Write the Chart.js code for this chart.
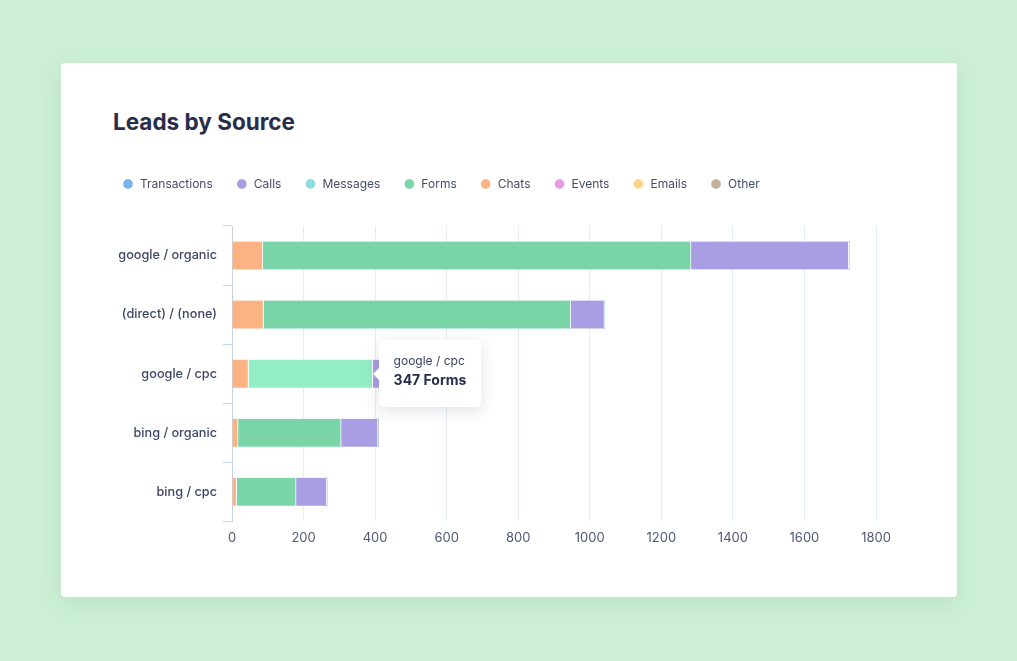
<!DOCTYPE html>
<html>
<head>
<meta charset="utf-8">
<script src="https://cdn.jsdelivr.net/npm/chart.js"></script>
<style>
  body { margin: 0; background: #cdf0d4; font-family: Inter, "Noto Sans", sans-serif; }
  .card {
    position: absolute; left: 61px; top: 63px; width: 896px; height: 534px;
    background: #fff; border-radius: 4px;
    box-shadow: 0 6px 22px rgba(40, 90, 60, 0.10);
  }
  .card h2 {
    position: absolute; left: 52px; top: 46px; margin: 0;
    font-size: 22.5px; line-height: 26px; font-weight: 700; color: #272d4b;
  }
  .wrap { position: absolute; left: 38px; top: 92px; width: 818px; height: 412px; }
  #tip {
    position: absolute; display: none; background: #fff; border-radius: 4px;
    padding: 13px 15px 17px 15px; white-space: nowrap;
    box-shadow: 0 4px 16px rgba(30, 40, 70, 0.13);
  }
  #tip:before {
    content: ""; position: absolute; left: -6px; top: 50%; margin-top: -6px;
    border-top: 6px solid transparent; border-bottom: 6px solid transparent;
    border-right: 6px solid #fff;
  }
  #tip .t1 { font-size: 12px; line-height: 16px; color: #3a4264; }
  #tip .t2 { font-size: 14px; line-height: 20px; margin-top: 1px; font-weight: 700; color: #272d4b; }
</style>
</head>
<body>
<div class="card">
  <h2>Leads by Source</h2>
  <div class="wrap">
    <canvas id="chart"></canvas>
    <div id="tip"><div class="t1"></div><div class="t2"></div></div>
  </div>
</div>
<script>
// Данные графика
var categories = ['google / organic', '(direct) / (none)', 'google / cpc', 'bing / organic', 'bing / cpc'];
var chats = [86, 88, 46, 17, 13];
var forms = [1197, 859, 347, 288, 166];
var calls = [441, 94, 40, 103, 86];
var transactions = [0, 0, 0, 0, 0];
var messages = [0, 0, 0, 0, 0];
var events = [0, 0, 0, 0, 0];
var emails = [0, 0, 0, 0, 0];
var other = [0, 0, 0, 0, 0];
var xTicks = [0, 200, 400, 600, 800, 1000, 1200, 1400, 1600, 1800];
var legendOrder = ['Transactions', 'Calls', 'Messages', 'Forms', 'Chats', 'Events', 'Emails', 'Other'];

var font = 'Inter, "Noto Sans", sans-serif';
var sep = { top: 0, bottom: 0, left: 0, right: 1 };

function ds(label, data, color, hover) {
    return {
        label: label,
        data: data,
        backgroundColor: color,
        hoverBackgroundColor: hover || color,
        borderColor: '#fff',
        hoverBorderColor: '#fff',
        borderWidth: sep,
        hoverBorderWidth: sep,
        borderSkipped: false,
        barThickness: 28
    };
}

// Порядок наборов = порядок сложения в стопке
var datasets = [
    ds('Chats', chats, '#fcb384'),
    ds('Forms', forms, '#79d4a8', '#93edc5'),
    ds('Calls', calls, '#a99ee4'),
    ds('Transactions', transactions, '#79b3ef'),
    ds('Messages', messages, '#8edcdd'),
    ds('Events', events, '#e49ce3'),
    ds('Emails', emails, '#fed38b'),
    ds('Other', other, '#c0b29c')
];

// Отступ под легендой
var legendGap = {
    id: 'legendGap',
    beforeInit: function (chart) {
        var fit = chart.legend.fit;
        chart.legend.fit = function () {
            fit.bind(chart.legend)();
            this.height += 26;
        };
    }
};

// Свой html-тултип
function externalTip(context) {
    var tip = document.getElementById('tip');
    var t = context.tooltip;
    if (t.opacity === 0 || !t.dataPoints || !t.dataPoints.length) {
        tip.style.display = 'none';
        return;
    }
    var dp = t.dataPoints[0];
    tip.querySelector('.t1').textContent = dp.label;
    tip.querySelector('.t2').textContent = dp.raw + ' ' + dp.dataset.label;
    tip.style.display = 'block';
    var el = dp.element;
    tip.style.left = (el.x + 6) + 'px';
    tip.style.top = (el.y - tip.offsetHeight / 2) + 'px';
}

var ctx = document.getElementById('chart').getContext('2d');
var chart = new Chart(ctx, {
    type: 'bar',
    data: { labels: categories, datasets: datasets },
    plugins: [legendGap],
    options: {
        indexAxis: 'y',
        responsive: true,
        maintainAspectRatio: false,
        animation: false,
        events: [],
        layout: { padding: { left: 0, right: 41, top: 0, bottom: 12 } },
        scales: {
            x: {
                stacked: true,
                min: 0,
                max: 1800,
                afterBuildTicks: function (s) {
                    s.ticks = xTicks.map(function (v) { return { value: v }; });
                },
                grid: { color: '#e4eef0', drawTicks: false },
                border: { display: false },
                ticks: {
                    color: '#4f5878', padding: 9, font: { family: font, size: 13 },
                    callback: function (v) { return String(v); }
                }
            },
            y: {
                stacked: true,
                grid: { drawOnChartArea: false, tickLength: 9, color: '#c5d3e6', offset: true },
                border: { display: true, color: '#c5d3e6' },
                ticks: { color: '#3d4566', padding: 6, font: { family: font, size: 12.7, weight: 500 } },
                afterFit: function (s) { s.width = 133; }
            }
        },
        plugins: {
            legend: {
                position: 'top',
                align: 'start',
                labels: {
                    usePointStyle: true,
                    pointStyle: 'circle',
                    boxWidth: 13,
                    boxHeight: 7,
                    padding: 23,
                    color: '#454d6a',
                    font: { family: font, size: 12 },
                    sort: function (a, b) {
                        return legendOrder.indexOf(a.text) - legendOrder.indexOf(b.text);
                    }
                }
            },
            tooltip: {
                enabled: false,
                external: externalTip
            }
        }
    }
});

// Подсветка сегмента google / cpc — Forms
var active = [{ datasetIndex: 1, index: 2 }];
chart.setActiveElements(active);
chart.tooltip.setActiveElements(active, { x: 0, y: 0 });
chart.update();
</script>
</body>
</html>
